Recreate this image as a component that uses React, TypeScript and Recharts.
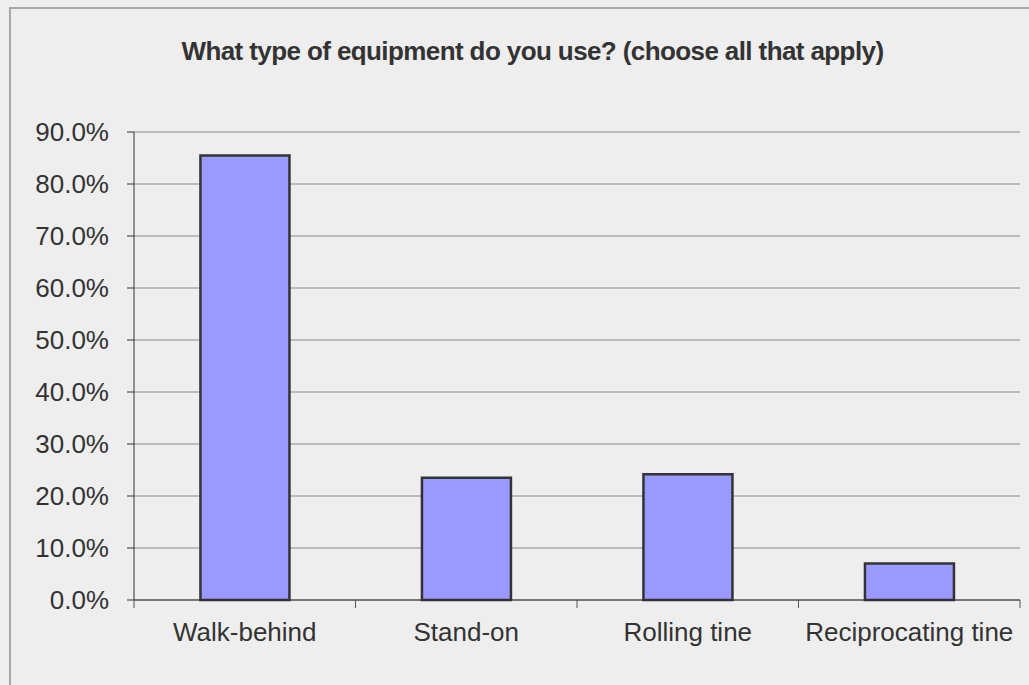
import { Bar, BarChart, CartesianGrid, XAxis, YAxis } from "recharts";

const categories = ["Walk-behind", "Stand-on", "Rolling tine", "Reciprocating tine"];
const shares = [85.5, 23.5, 24.2, 7.0];
const yTicks = [0, 10, 20, 30, 40, 50, 60, 70, 80, 90];

const data = categories.map((name, i) => ({ name, value: shares[i] }));

const font = "'Liberation Sans', Arial, sans-serif";
const X_MARGIN = 22.5;

// category label plus a tick mark at the band's edges (like Excel)
function CategoryTick(props: any) {
  const { x, y, payload, index } = props;
  const half = payload.offset || 0;
  const y0 = y - X_MARGIN;
  return (
    <g>
      <line x1={x - half} x2={x - half} y1={y0} y2={y0 + 8} stroke="#555" />
      {index === categories.length - 1 && (
        <line x1={x + half} x2={x + half} y1={y0} y2={y0 + 8} stroke="#555" />
      )}
      <text
        x={x}
        y={y}
        dy="0.71em"
        textAnchor="middle"
        fill="#333"
        fontSize={26}
        fontFamily={font}
      >
        {payload.value}
      </text>
    </g>
  );
}

export default function App() {
  return (
    <div
      style={{
        position: "absolute",
        left: 0,
        top: 0,
        width: 1029,
        height: 685,
        overflow: "hidden",
        background: "#eeeeee",
        fontFamily: font,
      }}
    >
      <div
        style={{
          position: "absolute",
          left: 9,
          top: 7,
          width: 1040,
          height: 700,
          borderLeft: "2px solid #a8a8a8",
          borderTop: "2px solid #a8a8a8",
        }}
      />
      <div
        style={{
          position: "absolute",
          left: 0,
          width: 1065,
          top: 36,
          textAlign: "center",
          fontSize: 26,
          fontWeight: "bold",
          letterSpacing: -0.6,
          color: "#333",
        }}
      >
        What type of equipment do you use? (choose all that apply)
      </div>
      <div style={{ position: "absolute", left: 0, top: 0 }}>
        <BarChart
          width={1029}
          height={685}
          data={data}
          margin={{ top: 132, right: 9, bottom: 0, left: 14 }}
          barCategoryGap="30%"
        >
          <CartesianGrid vertical={false} stroke="#888" strokeWidth={1} />
          <XAxis
            dataKey="name"
            height={85}
            stroke="#333"
            tickLine={false}
            tickSize={0}
            tickMargin={X_MARGIN}
            tick={<CategoryTick />}
            interval={0}
          />
          <YAxis
            width={120}
            domain={[0, 90]}
            ticks={yTicks}
            stroke="#333"
            tickSize={7}
            tickMargin={18}
            tickFormatter={(v: number) => `${v.toFixed(1)}%`}
            tick={{ fill: "#333", fontSize: 26, fontFamily: font }}
          />
          <Bar
            dataKey="value"
            fill="#9999ff"
            stroke="#333"
            strokeWidth={2.5}
            isAnimationActive={false}
          />
        </BarChart>
      </div>
    </div>
  );
}
